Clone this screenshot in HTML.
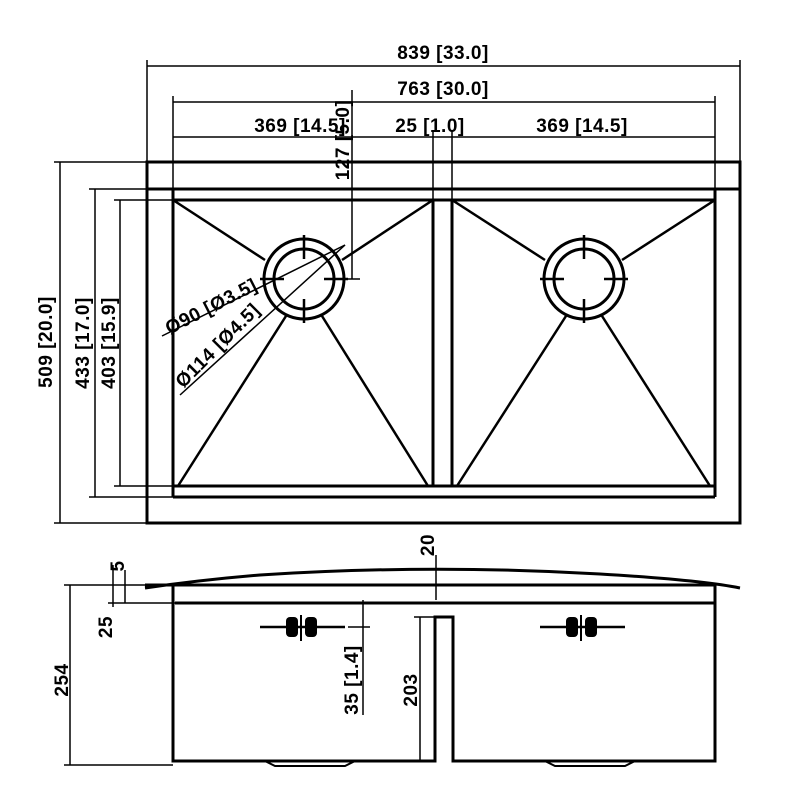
<!DOCTYPE html>
<html><head><style>body{margin:0;background:#fff}svg{display:block}text{font-family:"Liberation Sans",Arial,sans-serif;font-weight:bold;font-size:19px;fill:#000;letter-spacing:0.5px}</style></head>
<body>
<svg width="800" height="800" viewBox="0 0 800 800" xmlns="http://www.w3.org/2000/svg">
<g stroke="#000" fill="none">
<g stroke-width="3">
<rect x="147" y="162" width="593" height="361"/>
<line x1="147" y1="189" x2="740" y2="189"/>
<line x1="173" y1="200" x2="715" y2="200"/>
<line x1="173" y1="189" x2="173" y2="497"/>
<line x1="715" y1="189" x2="715" y2="497"/>
<line x1="173" y1="497" x2="715" y2="497"/>
<line x1="173" y1="486" x2="715" y2="486"/>
<line x1="433" y1="200" x2="433" y2="486"/>
<line x1="452" y1="200" x2="452" y2="486"/>
<circle cx="304" cy="279" r="40"/><circle cx="304" cy="279" r="30"/>
<circle cx="584" cy="279" r="40"/><circle cx="584" cy="279" r="30"/>
</g>
<g stroke-width="2.5">
<line x1="173" y1="200" x2="265" y2="260"/><line x1="433" y1="200" x2="342" y2="260"/>
<line x1="178" y1="486" x2="286" y2="316"/><line x1="428" y1="486" x2="322" y2="316"/>
<line x1="452" y1="200" x2="545" y2="260"/><line x1="715" y1="200" x2="622" y2="260"/>
<line x1="457" y1="486" x2="566" y2="316"/><line x1="710" y1="486" x2="602" y2="316"/>
<path d="M304 235v24M304 299v24M260 279h24M324 279h24"/>
<path d="M584 235v24M584 299v24M540 279h24M604 279h24"/>
</g>
<g stroke-width="1.5">
<line x1="147" y1="66" x2="740" y2="66"/><line x1="147" y1="60" x2="147" y2="162"/><line x1="740" y1="60" x2="740" y2="162"/>
<line x1="173" y1="102" x2="715" y2="102"/><line x1="173" y1="96" x2="173" y2="189"/><line x1="715" y1="96" x2="715" y2="189"/>
<line x1="173" y1="137" x2="715" y2="137"/><line x1="433" y1="131" x2="433" y2="200"/><line x1="452" y1="131" x2="452" y2="200"/>
<line x1="352" y1="90" x2="352" y2="279"/><line x1="340" y1="279" x2="360" y2="279"/>
<line x1="60" y1="162" x2="60" y2="523"/><line x1="54" y1="162" x2="147" y2="162"/><line x1="54" y1="523" x2="147" y2="523"/>
<line x1="95" y1="189" x2="95" y2="497"/><line x1="89" y1="189" x2="147" y2="189"/><line x1="89" y1="497" x2="173" y2="497"/>
<line x1="120" y1="200" x2="120" y2="486"/><line x1="114" y1="200" x2="173" y2="200"/><line x1="114" y1="486" x2="173" y2="486"/>
<line x1="162" y1="336" x2="345" y2="245"/>
<line x1="180" y1="395" x2="345" y2="245"/>
</g>
<g stroke-width="3">
<path d="M145 588 Q200 580 260 575 Q430 564 600 574 Q700 580 740 588"/>
<line x1="145" y1="585" x2="715" y2="585"/>
<line x1="175" y1="603" x2="715" y2="603"/>
<polyline points="173,585 173,761 435,761 435,617 453,617 453,761 715,761 715,585"/>
<path d="M265 761 l10 5 h70 l10 -5" stroke-width="2"/>
<path d="M545 761 l10 5 h70 l10 -5" stroke-width="2"/>
</g>
<g stroke-width="1.5">
<line x1="70" y1="585" x2="70" y2="765"/><line x1="64" y1="585" x2="145" y2="585"/><line x1="64" y1="765" x2="173" y2="765"/>
<line x1="113" y1="565" x2="113" y2="607"/><line x1="108" y1="603" x2="175" y2="603"/>
<line x1="125" y1="570" x2="125" y2="603"/>
<line x1="436" y1="555" x2="436" y2="600"/>
<line x1="363" y1="600" x2="363" y2="715"/><line x1="348" y1="627" x2="370" y2="627"/>
<line x1="420" y1="617" x2="420" y2="761"/><line x1="414" y1="617" x2="435" y2="617"/>
<line x1="260" y1="627" x2="345" y2="627" stroke-width="2.5"/>
<line x1="540" y1="627" x2="625" y2="627" stroke-width="2.5"/>
</g>
<g fill="#000" stroke="none">
<rect x="286" y="617" width="12" height="20" rx="4"/><rect x="305" y="617" width="12" height="20" rx="4"/><rect x="300" y="615" width="2" height="26"/>
<rect x="566" y="617" width="12" height="20" rx="4"/><rect x="585" y="617" width="12" height="20" rx="4"/><rect x="580" y="615" width="2" height="26"/>
</g>
</g>
<text x="443" y="59" text-anchor="middle">839 [33.0]</text>
<text x="443" y="95" text-anchor="middle">763 [30.0]</text>
<text x="300" y="132" text-anchor="middle">369 [14.5]</text>
<text x="430" y="132" text-anchor="middle">25 [1.0]</text>
<text x="582" y="132" text-anchor="middle">369 [14.5]</text>
<text transform="translate(349,140) rotate(-90)" text-anchor="middle">127 [5.0]</text>
<text transform="translate(52,342) rotate(-90)" text-anchor="middle">509 [20.0]</text>
<text transform="translate(89,343) rotate(-90)" text-anchor="middle">433 [17.0]</text>
<text transform="translate(115,343) rotate(-90)" text-anchor="middle">403 [15.9]</text>
<text transform="translate(214,312) rotate(-27)" text-anchor="middle">Ø90 [Ø3.5]</text>
<text transform="translate(222,350) rotate(-45)" text-anchor="middle">Ø114 [Ø4.5]</text>
<text transform="translate(434,545) rotate(-90)" text-anchor="middle" font-size="15">20</text>
<text transform="translate(124,566) rotate(-90)" text-anchor="middle" font-size="15">5</text>
<text transform="translate(112,627) rotate(-90)" text-anchor="middle" font-size="15">25</text>
<text transform="translate(68,680) rotate(-90)" text-anchor="middle" font-size="15">254</text>
<text transform="translate(358,680) rotate(-90)" text-anchor="middle">35 [1.4]</text>
<text transform="translate(417,690) rotate(-90)" text-anchor="middle" font-size="15">203</text>
</svg>
</body></html>
